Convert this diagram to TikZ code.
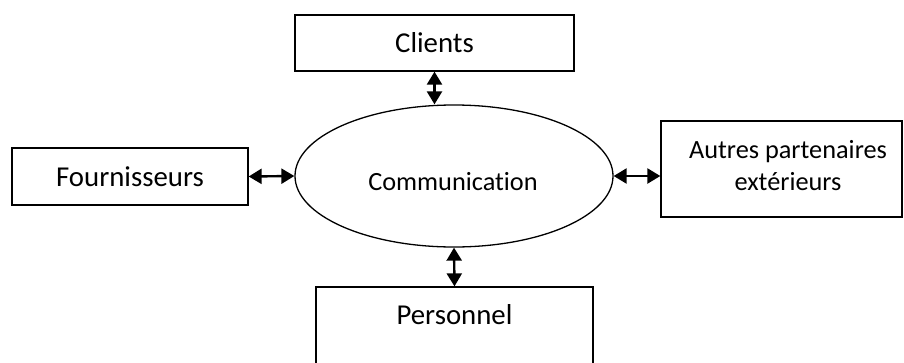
\documentclass[tikz,border=0pt]{standalone}
\usepackage{fontspec}
\setmainfont{Carlito}[Ligatures={NoCommon}]
\usetikzlibrary{shapes.geometric,arrows.meta}
\begin{document}
\begin{tikzpicture}[x=1pt,y=-1pt,
  box/.style={draw,line width=1.3pt,rectangle,inner sep=0pt},
  bigtxt/.style={font=\fontsize{28.8}{34}\selectfont,inner sep=0pt},
  smalltxt/.style={font=\fontsize{26.3}{32}\selectfont,inner sep=0pt,align=center},
  arr/.style={line width=2.4pt,{Triangle[length=13pt,width=15pt]}-{Triangle[length=13pt,width=15pt]}}]
\clip (0,0) rectangle (904,362);
\fill[white] (0,0) rectangle (904,362);
\node[box,bigtxt,minimum width=279pt,minimum height=56pt] (clients) at (434.5,43) {Clients};
\node[box,bigtxt,minimum width=236pt,minimum height=57pt] (fourn) at (130,176.5) {Fournisseurs};
\node[box,minimum width=241pt,minimum height=96pt] (autres) at (781.5,169) {};
\node[smalltxt] (autrestxt) at (788,166) {Autres partenaires\\extérieurs};
\node[draw,line width=1.3pt,ellipse,minimum width=318pt,minimum height=142pt,inner sep=0pt] (comm) at (454,176) {};
\node[smalltxt] (commtxt) at (453,182) {Communication};
\node[box,minimum width=277pt,minimum height=100pt] (pers) at (454.5,337) {};
\node[bigtxt] (perstxt) at (454.5,315) {Personnel};
\draw[arr] (clients) -- (clients |- comm.north);
\draw[arr] (fourn.east) -- (comm.west);
\draw[arr] (comm.east) -- (comm.east -| autres.west);
\draw[arr] (comm.south) -- (pers.north);
\end{tikzpicture}
\end{document}
